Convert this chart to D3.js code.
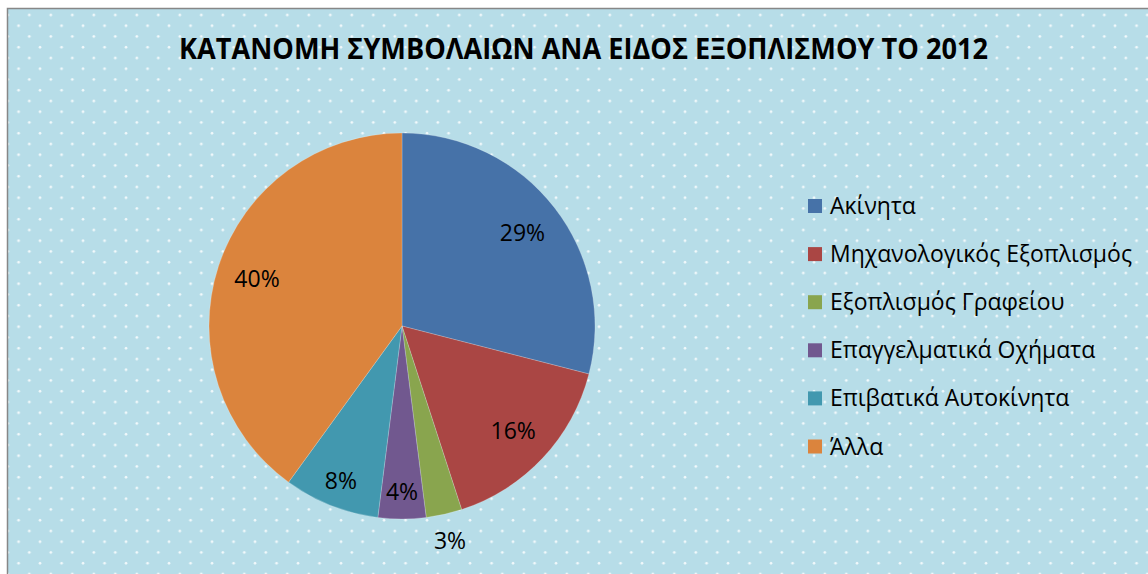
<!DOCTYPE html>
<html>
<head>
<meta charset="utf-8">
<script src="https://cdn.jsdelivr.net/npm/d3@7"></script>
<style>
html, body { margin:0; padding:0; background:#fff; overflow:hidden; }
text { font-family:"Open Sans", "Noto Sans", sans-serif; fill:#000; }
</style>
</head>
<body>
<div id="chart"></div>
<script>
// Chart size
const W = 1148, H = 574;

// Data
const categories = ["Ακίνητα", "Μηχανολογικός Εξοπλισμός", "Εξοπλισμός Γραφείου",
  "Επαγγελματικά Οχήματα", "Επιβατικά Αυτοκίνητα", "Άλλα"];
const values = [29, 16, 3, 4, 8, 40];
const colors = ["#4672a8", "#aa4644", "#89a54e", "#71588f", "#4298af", "#db843d"];
const title = "ΚΑΤΑΝΟΜΗ ΣΥΜΒΟΛΑΙΩΝ ΑΝΑ ΕΙΔΟΣ ΕΞΟΠΛΙΣΜΟΥ ΤΟ 2012";

const svg = d3.select("#chart")
  .append("svg")
  .attr("width", W)
  .attr("height", H);

// dotted background
const pat = svg.append("defs").append("pattern")
  .attr("id", "dots")
  .attr("patternUnits", "userSpaceOnUse")
  .attr("width", 21.5)
  .attr("height", 21.5);
pat.append("rect").attr("width", 21.5).attr("height", 21.5).attr("fill", "#b7dde8");
pat.append("circle").attr("cx", 7.8).attr("cy", 15).attr("r", 1.3).attr("fill", "#fff").attr("opacity", 0.85);
pat.append("circle").attr("cx", 18.55).attr("cy", 4.25).attr("r", 1.3).attr("fill", "#fff").attr("opacity", 0.85);

svg.append("rect")
  .attr("x", 7.5).attr("y", 8.5)
  .attr("width", W).attr("height", H)
  .attr("fill", "url(#dots)")
  .attr("stroke", "#878787")
  .attr("stroke-width", 1.5);

// title
const t = svg.append("text")
  .attr("x", 583.5).attr("y", 59)
  .attr("text-anchor", "middle")
  .attr("font-size", 28)
  .attr("font-weight", "bold")
  .text(title);
if (t.node().getComputedTextLength() > 809) {
  t.attr("textLength", 809).attr("lengthAdjust", "spacingAndGlyphs");
}

// pie
const cx = 402, cy = 326, r = 193;
const pie = d3.pie().sort(null).value(d => d);
const arcs = pie(values);
const arc = d3.arc().innerRadius(0).outerRadius(r);

const g = svg.append("g").attr("transform", `translate(${cx},${cy})`);

g.selectAll("path")
  .data(arcs)
  .enter()
  .append("path")
  .attr("d", arc)
  .attr("fill", (d, i) => colors[i])
  .attr("stroke", "rgba(255,255,255,0.35)")
  .attr("stroke-width", 0.6);

// labels: inside for wide slices, pushed outward for narrow ones
function labelR(d) {
  const span = d.endAngle - d.startAngle;
  if (span > 0.9) return r * 0.79;
  if (span > 0.2) return r * 0.86;
  return r * 1.14;
}
g.selectAll(".lbl")
  .data(arcs)
  .enter()
  .append("text")
  .attr("class", "lbl")
  .attr("transform", d => {
    const a = (d.startAngle + d.endAngle) / 2;
    const rr = labelR(d);
    return `translate(${Math.sin(a) * rr},${-Math.cos(a) * rr})`;
  })
  .attr("dy", "0.36em")
  .attr("text-anchor", "middle")
  .attr("font-size", 23)
  .text(d => d.data + "%");

// legend
const legend = svg.append("g").attr("transform", "translate(808,206)");
const rows = legend.selectAll("g")
  .data(categories)
  .enter()
  .append("g")
  .attr("transform", (d, i) => `translate(0,${i * 48.1})`);

rows.append("rect")
  .attr("x", 0).attr("y", -7)
  .attr("width", 14).attr("height", 14)
  .attr("fill", (d, i) => colors[i]);

const lt = rows.append("text")
  .attr("x", 22).attr("y", 8)
  .attr("font-size", 23)
  .text(d => d);

// fit legend text to the width of the original face
const longest = d3.max(lt.nodes(), n => n.getComputedTextLength());
const k = 302 / longest;
lt.each(function() {
  const w = this.getComputedTextLength();
  d3.select(this).attr("textLength", w * k).attr("lengthAdjust", "spacingAndGlyphs");
});
</script>
</body>
</html>
